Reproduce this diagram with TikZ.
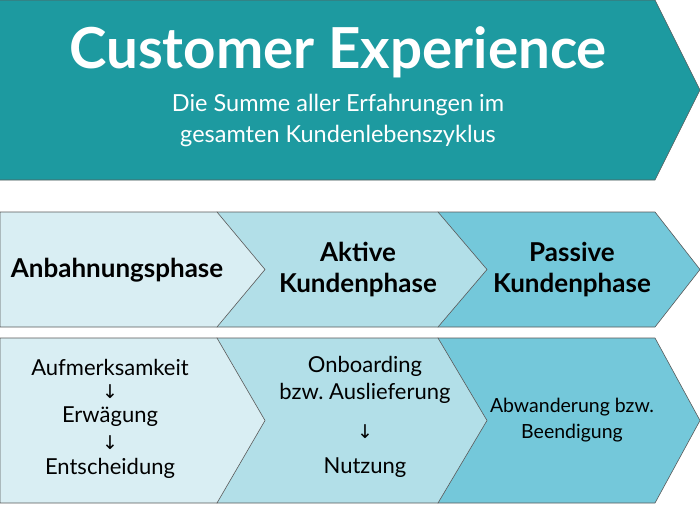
\documentclass[tikz,border=0pt]{standalone}
\usepackage{fontspec}
\setmainfont{Lato}
\newfontfamily\arrfont{DejaVu Sans}
\usetikzlibrary{positioning}
\definecolor{teal1}{HTML}{1D9AA0}
\definecolor{light1}{HTML}{D9EEF3}
\definecolor{mid1}{HTML}{B2DFE8}
\definecolor{dark1}{HTML}{74C8DA}
\tikzset{
  chev/.style={draw=gray!70!black, line width=0.6pt},
  phase/.style={font=\fontsize{26}{31}\selectfont\bfseries, align=center},
  item/.style={font=\fontsize{22}{27}\selectfont, align=center},
  down/.style={font=\arrfont\fontsize{19}{19}\selectfont}
}
\begin{document}
\begin{tikzpicture}[x=1pt,y=-1pt]
  \useasboundingbox (0,0) rectangle (700,504);
  % Banner
  \fill[teal1] (0,0) -- (655,0) -- (700,90) -- (655,180) -- (0,180) -- cycle;
  \draw[gray!70!black, line width=0.6pt] (0,0) -- (655,0) -- (700,90) -- (655,180) -- (0,180);
  \node[text=white, font=\fontsize{56.5}{64}\selectfont\bfseries] (title) at (338,52) {Customer Experience};
  \node[text=white, font=\fontsize{23.5}{31}\selectfont, align=center] (sub) at (338,120) {Die Summe aller Erfahrungen im\\gesamten Kundenlebenszyklus};

  % Chevron rows
  \foreach \ya/\yb in {212/327, 338/503} {
    \pgfmathsetmacro\ym{(\ya+\yb)/2}
    \draw[chev, fill=dark1] (438,\ya) -- (655,\ya) -- (700,\ym) -- (655,\yb) -- (438,\yb) -- cycle;
    \draw[chev, fill=mid1] (217,\ya) -- (438,\ya) -- (487,\ym) -- (438,\yb) -- (217,\yb) -- cycle;
    \draw[chev, fill=light1] (0,\ya) -- (217,\ya) -- (265,\ym) -- (217,\yb) -- (0,\yb) -- cycle;
  }

  % Phases
  \node[phase] (anb) at (117,270) {Anbahnungsphase};
  \node[phase] (akt) at (358,270) {Aktive\\Kundenphase};
  \node[phase] (pas) at (572,270) {Passive\\Kundenphase};

  % Details
  \node[item] (auf) at (110,367) {Aufmerksamkeit};
  \node[down] (d1) at (110,392) {↓};
  \node[item] (erw) at (110,417) {Erwägung};
  \node[down] (d2) at (110,443) {↓};
  \node[item] (ent) at (110,468) {Entscheidung};

  \node[item] (onb) at (365,380) {Onboarding\\bzw.~Auslieferung};
  \node[down] (d3) at (365,432) {↓};
  \node[item] (nut) at (365,468) {Nutzung};

  \node[item, font=\fontsize{19.5}{26}\selectfont] (abw) at (572,420) {Abwanderung bzw.\\Beendigung};
\end{tikzpicture}
\end{document}
